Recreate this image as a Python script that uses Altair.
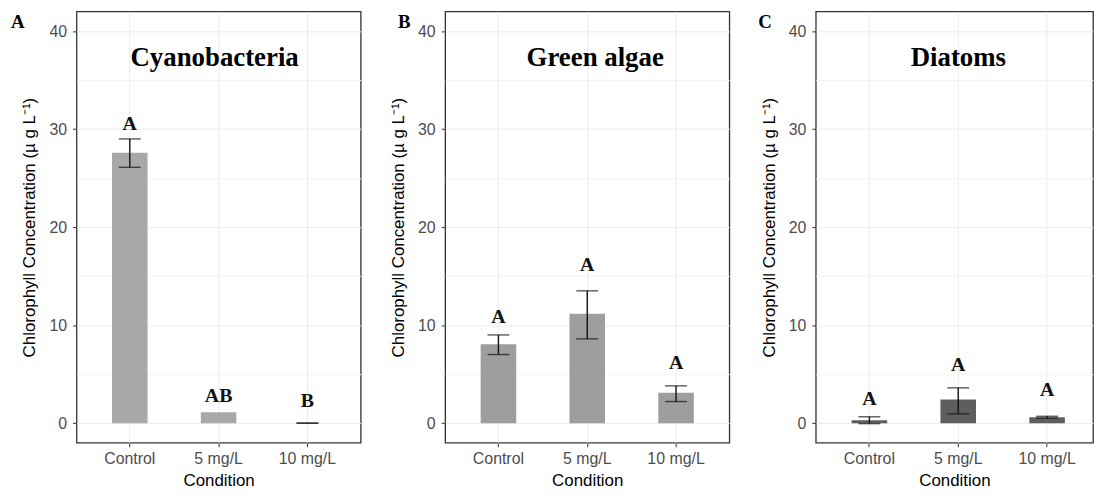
import altair as alt
import pandas as pd

conditions = ["Control", "5 mg/L", "10 mg/L"]

# Panel A: Cyanobacteria
cyano_mean = [27.6, 1.1, 0.0]
cyano_low = [26.1, None, 0.0]
cyano_high = [29.0, None, 0.0]
cyano_groups = ["A", "AB", "B"]
cyano_group_y = [30.5, 2.8, 2.3]

# Panel B: Green algae
green_mean = [8.05, 11.15, 3.1]
green_low = [7.0, 8.6, 2.2]
green_high = [9.0, 13.5, 3.8]
green_groups = ["A", "A", "A"]
green_group_y = [10.8, 16.1, 6.1]

# Panel C: Diatoms
diatom_mean = [0.3, 2.4, 0.6]
diatom_low = [-0.05, 0.95, 0.5]
diatom_high = [0.65, 3.6, 0.7]
diatom_groups = ["A", "A", "A"]
diatom_group_y = [2.5, 5.9, 3.4]

y_ticks = [0, 5, 10, 15, 20, 25, 30, 35, 40]
y_domain = [-2, 42]

W, H = 286, 434
SANS = "Liberation Sans"
SERIF = "Liberation Serif"
Y_TITLE = "Chlorophyll Concentration (\u00b5 g L\u207b\u00b9)"


def y_axis():
    return alt.Axis(
        values=y_ticks,
        labelExpr="datum.value % 10 === 0 ? datum.label : ''",
        tickColor={"condition": {"test": "datum.value % 10 === 0", "value": "#333333"},
                   "value": "transparent"},
        gridColor={"condition": {"test": "datum.value % 10 === 0", "value": "#EBEBEB"},
                   "value": "#F3F3F3"},
        title=Y_TITLE,
    )


def x_axis():
    return alt.Axis(title="Condition", labelAngle=0)


def panel(letter, title, title_dx, letter_x, color, mean, low, high, groups, group_y,
          width=W, outer=0.4, align=0.5):
    df = pd.DataFrame({
        "cond": conditions, "mean": mean, "low": low, "high": high,
        "grp": groups, "gy": group_y,
    })
    err = df.dropna(subset=["low", "high"])

    xs = alt.Scale(domain=conditions, paddingInner=0.6, paddingOuter=outer, align=align)
    ys = alt.Scale(domain=y_domain, nice=False, zero=False)

    def X():
        return alt.X("cond:N", scale=xs, axis=x_axis(), sort=conditions)

    bars = alt.Chart(df).mark_bar(color=color).encode(
        x=X(), y=alt.Y("mean:Q", scale=ys, axis=y_axis()),
    )
    stem = alt.Chart(err).mark_rule(color="#111111", strokeWidth=1.4).encode(
        x=X(), y=alt.Y("low:Q", scale=ys, axis=y_axis()), y2="high:Q",
    )
    cap_lo = alt.Chart(err).mark_tick(color="#111111", size=22, thickness=1.4,
                                      orient="horizontal").encode(
        x=X(), y=alt.Y("low:Q", scale=ys, axis=y_axis()),
    )
    cap_hi = alt.Chart(err).mark_tick(color="#111111", size=22, thickness=1.4,
                                      orient="horizontal").encode(
        x=X(), y=alt.Y("high:Q", scale=ys, axis=y_axis()),
    )
    grp_text = alt.Chart(df).mark_text(
        font=SERIF, fontWeight="bold", fontSize=20, baseline="middle", color="#111111"
    ).encode(
        x=X(), y=alt.Y("gy:Q", scale=ys, axis=y_axis()), text="grp:N",
    )
    head = alt.Chart(pd.DataFrame({"t": [title], "ty": [37.2]})).mark_text(
        font=SERIF, fontWeight="bold", fontSize=27, baseline="middle", color="#000000",
        dx=title_dx,
    ).encode(
        x=alt.value(width / 2), y=alt.Y("ty:Q", scale=ys, axis=y_axis()), text="t:N",
    )
    tag = alt.Chart(pd.DataFrame({"t": [letter]})).mark_text(
        font=SERIF, fontWeight="bold", fontSize=19, baseline="middle", align="center",
        color="#000000",
    ).encode(x=alt.value(letter_x), y=alt.value(11), text="t:N")

    return alt.layer(bars, stem, cap_lo, cap_hi, grp_text, head, tag).properties(
        width=width, height=H
    )


pa = panel("A", "Cyanobacteria", -4, -59, "#A8A8A8",
           cyano_mean, cyano_low, cyano_high, cyano_groups, cyano_group_y)
pb = panel("B", "Green algae", 8, -41, "#9E9E9E",
           green_mean, green_low, green_high, green_groups, green_group_y)
# the right edge of the last panel runs to the edge of the figure
pc = panel("C", "Diatoms", 4, -51, "#5E5E5E",
           diatom_mean, diatom_low, diatom_high, diatom_groups, diatom_group_y,
           width=279, outer=0.36, align=0.56)

chart = alt.hconcat(pa, pb, pc, spacing=27).properties(
    padding={"left": 10, "top": 9, "right": 0, "bottom": 0},
    background="white",
).configure_view(
    stroke="#333333", strokeWidth=1.3,
).configure_axis(
    labelFont=SANS, labelFontSize=16, labelColor="#4D4D4D",
    titleFont=SANS, titleFontSize=17, titleColor="#000000", titleFontWeight="normal",
    tickSize=4, tickWidth=1, domain=False, grid=True, gridWidth=1,
).configure_axisX(
    labelPadding=4, titlePadding=6, tickColor="#333333", gridColor="#EBEBEB",
).configure_axisY(
    labelPadding=6, titlePadding=10,
)

chart.save("out.html", embed_options={"renderer": "svg", "actions": False})
